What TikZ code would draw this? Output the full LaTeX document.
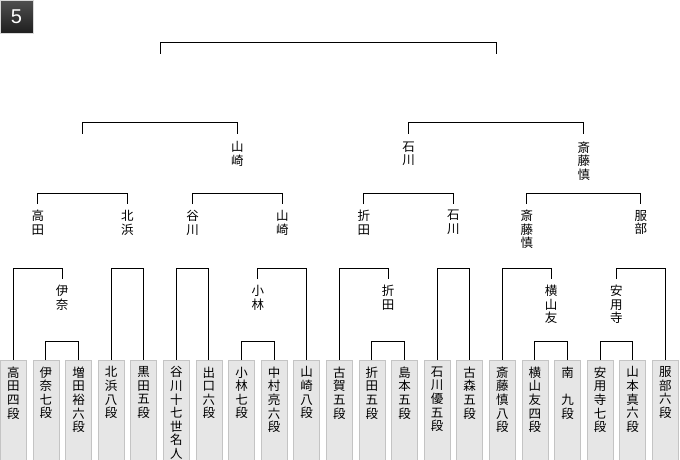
\documentclass[tikz,border=0pt]{standalone}
\usepackage{fontspec}
\setmainfont{Noto Sans CJK JP}
\newfontfamily\numfont{Liberation Sans}
\definecolor{boxfill}{HTML}{E6E6E6}
\definecolor{boxline}{HTML}{C4C4C4}
\definecolor{badgetop}{HTML}{505050}
\definecolor{badgebot}{HTML}{1E1E1E}
\begin{document}
\begin{tikzpicture}[x=1pt,y=-1pt,
  conn/.style={line width=1pt},
  pbox/.style={draw=boxline,fill=boxfill,line width=0.8pt,minimum width=26pt,minimum height=104pt,anchor=north,inner sep=0pt},
  ptext/.style={anchor=north,inner xsep=0pt,inner ysep=6.5pt,align=center,font=\fontsize{12.5}{13.6}\selectfont},
  lab/.style={anchor=north,inner xsep=0pt,inner ysep=6pt,align=center,font=\fontsize{12.5}{13.6}\selectfont},
  lab2/.style={lab,inner ysep=8pt},
  badge/.style={rectangle,minimum size=33pt,inner sep=0pt,top color=badgetop,bottom color=badgebot,draw=white!85!black,line width=0.6pt,text=white,font=\numfont\fontsize{20}{20}\selectfont}]
\path[use as bounding box] (0,0) rectangle (680,460);
\fill[white] (0,0) rectangle (680,460);
\clip (0,0) rectangle (680,460);
% badge
\node[badge] (badge) at (16.5,16.5) {5};
% player boxes
\node[pbox] (p0) at (13.3,360) {};   \node[ptext] (t0) at (p0.north) {高\\田\\四\\段};
\node[pbox] (p1) at (45.9,360) {};   \node[ptext] (t1) at (p1.north) {伊\\奈\\七\\段};
\node[pbox] (p2) at (78.5,360) {};   \node[ptext] (t2) at (p2.north) {増\\田\\裕\\六\\段};
\node[pbox] (p3) at (111.1,360) {};  \node[ptext] (t3) at (p3.north) {北\\浜\\八\\段};
\node[pbox] (p4) at (143.7,360) {};  \node[ptext] (t4) at (p4.north) {黒\\田\\五\\段};
\node[pbox] (p5) at (176.3,360) {};  \node[ptext] (t5) at (p5.north) {谷\\川\\十\\七\\世\\名\\人};
\node[pbox] (p6) at (208.9,360) {};  \node[ptext] (t6) at (p6.north) {出\\口\\六\\段};
\node[pbox] (p7) at (241.5,360) {};  \node[ptext] (t7) at (p7.north) {小\\林\\七\\段};
\node[pbox] (p8) at (274.1,360) {};  \node[ptext] (t8) at (p8.north) {中\\村\\亮\\六\\段};
\node[pbox] (p9) at (306.7,360) {};  \node[ptext] (t9) at (p9.north) {山\\崎\\八\\段};
\node[pbox] (p10) at (339.3,360) {}; \node[ptext] (t10) at (p10.north) {古\\賀\\五\\段};
\node[pbox] (p11) at (371.9,360) {}; \node[ptext] (t11) at (p11.north) {折\\田\\五\\段};
\node[pbox] (p12) at (404.5,360) {}; \node[ptext] (t12) at (p12.north) {島\\本\\五\\段};
\node[pbox] (p13) at (437.1,360) {}; \node[ptext] (t13) at (p13.north) {石\\川\\優\\五\\段};
\node[pbox] (p14) at (469.7,360) {}; \node[ptext] (t14) at (p14.north) {古\\森\\五\\段};
\node[pbox] (p15) at (502.3,360) {}; \node[ptext] (t15) at (p15.north) {斎\\藤\\慎\\八\\段};
\node[pbox] (p16) at (534.9,360) {}; \node[ptext] (t16) at (p16.north) {横\\山\\友\\四\\段};
\node[pbox] (p17) at (567.5,360) {}; \node[ptext] (t17) at (p17.north) {南\\　\\九\\段};
\node[pbox] (p18) at (600.1,360) {}; \node[ptext] (t18) at (p18.north) {安\\用\\寺\\七\\段};
\node[pbox] (p19) at (632.7,360) {}; \node[ptext] (t19) at (p19.north) {山\\本\\真\\六\\段};
\node[pbox] (p20) at (665.3,360) {}; \node[ptext] (t20) at (p20.north) {服\\部\\六\\段};
% level-4 winner labels
\node[lab] (lIna)  at (62.2,279)  {伊\\奈};
\node[lab] (lKoba) at (257.8,279) {小\\林};
\node[lab] (lOri4) at (388.2,279) {折\\田};
\node[lab] (lYoko) at (551.2,279) {横\\山\\友};
\node[lab] (lAnyo) at (616.4,279) {安\\用\\寺};
% level-3 labels
\node[lab] (lTaka)  at (37.75,204)  {高\\田};
\node[lab] (lKita)  at (127.4,204)  {北\\浜};
\node[lab] (lTani)  at (192.6,204)  {谷\\川};
\node[lab] (lYama3) at (282.25,204) {山\\崎};
\node[lab] (lOri3)  at (363.75,204) {折\\田};
\node[lab] (lIshi3) at (453.4,204)  {石\\川};
\node[lab] (lSai3)  at (526.75,204) {斎\\藤\\慎};
\node[lab] (lHat)   at (640.85,204) {服\\部};
% level-2 labels
\coordinate (e2L) at (82.6,133.5);
\node[lab2] (lYama2) at (237.4,133.5) {山\\崎};
\node[lab2] (lIshi2) at (408.6,133.5) {石\\川};
\node[lab2] (lSai2)  at (583.8,133.5) {斎\\藤\\慎};
% level-1 ends
\coordinate (e1L) at (160,54);
\coordinate (e1R) at (496.2,54);
% first-round brackets
\draw[conn] (p1.north) -- ++(0,-19) -| (p2.north);
\draw[conn] (p7.north) -- ++(0,-19) -| (p8.north);
\draw[conn] (p11.north) -- ++(0,-19) -| (p12.north);
\draw[conn] (p16.north) -- ++(0,-19) -| (p17.north);
\draw[conn] (p18.north) -- ++(0,-19) -| (p19.north);
% second-round brackets
\draw[conn] (p0.north) |- ([yshift=11pt]lIna.north) -- (lIna.north);
\draw[conn] (p3.north) -- ++(0,-92) -| (p4.north);
\draw[conn] (p5.north) -- ++(0,-92) -| (p6.north);
\draw[conn] (lKoba.north) -- ++(0,-11) -| (p9.north);
\draw[conn] (p10.north) |- ([yshift=11pt]lOri4.north) -- (lOri4.north);
\draw[conn] (p13.north) -- ++(0,-92) -| (p14.north);
\draw[conn] (p15.north) |- ([yshift=11pt]lYoko.north) -- (lYoko.north);
\draw[conn] (lAnyo.north) -- ++(0,-11) -| (p20.north);
% third-round brackets
\draw[conn] (lTaka.north) -- ++(0,-11) -| (lKita.north);
\draw[conn] (lTani.north) -- ++(0,-11) -| (lYama3.north);
\draw[conn] (lOri3.north) -- ++(0,-11) -| (lIshi3.north);
\draw[conn] (lSai3.north) -- ++(0,-11) -| (lHat.north);
% semifinal brackets
\draw[conn] (e2L) -- ++(0,-11.5) -| (lYama2.north);
\draw[conn] (lIshi2.north) -- ++(0,-11.5) -| (lSai2.north);
% final
\draw[conn] (e1L) -- ++(0,-11.5) -| (e1R);
\end{tikzpicture}
\end{document}
